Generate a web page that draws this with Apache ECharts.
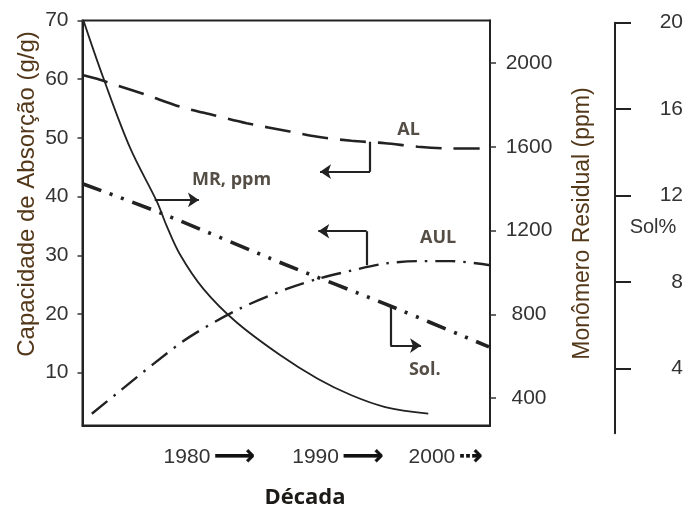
<!DOCTYPE html>
<html><head><meta charset="utf-8">
<script src="https://cdn.jsdelivr.net/npm/echarts@6/dist/echarts.min.js"></script>
<style>html,body{margin:0;padding:0;background:#fff}#c{width:686px;height:518px}</style>
</head><body><div id="c"></div>
<script>
// ---- data ----
const xLabelAt = [1980.9, 1991.95, 2001.2];
const xLabelYear = ['1980', '1990', '2000'];
const xLabelArrow = ['a', 'a', 'd'];
const absTicks = [10, 20, 30, 40, 50, 60, 70];
const mrTicks = [400, 800, 1200, 1600, 2000];
const solTicks = [4, 8, 12, 16, 20];

const mrYear = [1970.1, 1971.8, 1974.1, 1976.4, 1977.2, 1978.4, 1980.4, 1983.2, 1987.0, 1990.2, 1993.1, 1996.0, 1999.7];
const mrPpm  = [2200, 1927, 1593, 1337, 1226, 1083, 920, 763, 604, 492, 413, 357, 325];

const alYear = [1970, 1971.5, 1972.9, 1975.5, 1978.4, 1981.2, 1984.1, 1987.8, 1990.2, 1993.1, 1996.0, 1998.8, 2001.7, 2005];
const alVal  = [60.7, 59.9, 59.0, 57.3, 55.3, 53.9, 52.5, 51.1, 50.2, 49.5, 49.1, 48.5, 48.2, 48.2];

const aulYear = [1970.8, 1973.1, 1976.1, 1979.2, 1983.5, 1987.6, 1990.25, 1993.1, 1996.0, 1998.8, 2001.7, 2005];
const aulVal  = [3.0, 6.7, 11.5, 16.1, 20.9, 24.3, 26.0, 27.4, 28.6, 29.0, 29.0, 28.3];

const solYear = [1970, 1976.7, 1987.5, 1996.0, 2005];
const solVal  = [12.55, 11.2, 8.8, 7.0, 5.0];

// annotation texts and anchor points (data units, left axis)
const noteText = ['AL', 'MR, ppm', 'AUL', 'Sol.'];
const noteYear = [1998.0, 1982.8, 2000.55, 1999.4];
const noteVal  = [51.35, 42.85, 32.95, 10.4];

// bracket arrows (data units)
const alBracket  = [[1994.7, 49.35], [1994.7, 44.24], [1990.4, 44.24]];
const aulBracket = [[1994.4, 28.3], [1994.4, 34.1], [1990.25, 34.1]];
const mrArrow    = [[1976.2, 1346], [1980.0, 1346]];
const solBracket = [[1996.5, 6.88], [1996.5, 5.06], [1999.15, 5.06]];

const zip = (a, b) => a.map((v, i) => [v, b[i]]);
const INK = '#222';
const TICKFONT = '"Liberation Sans", Arial, sans-serif';

const chart = echarts.init(document.getElementById('c'), null, {renderer: 'canvas'});

const axisLine = {show: true, lineStyle: {color: INK, width: 2}};
const plain = v => String(v);

const option = {
  animation: false,
  backgroundColor: '#fff',
  grid: [
    {left: 82.5, right: 196, top: 20.5, bottom: 92.5, show: true, borderColor: INK, borderWidth: 2, backgroundColor: 'transparent'},
    {left: 82.5, right: 196, top: 22.7, bottom: 84.7}
  ],
  xAxis: [
    {type: 'value', gridIndex: 0, min: 1970, max: 2005,
     axisLine: axisLine, axisTick: {show: false}, splitLine: {show: false},
     axisLabel: {
       customValues: xLabelAt, margin: 17,
       formatter: function (v) {
         let k = 0, best = 1e9;
         xLabelAt.forEach((p, i) => { if (Math.abs(p - v) < best) { best = Math.abs(p - v); k = i; } });
         return '{n|' + xLabelYear[k] + '} {' + xLabelArrow[k] + '|' + (xLabelArrow[k] === 'a' ? '⟶' : '⇢') + '}';
       },
       rich: {
         n: {fontSize: 21, color: '#333', fontFamily: TICKFONT},
         a: {fontSize: 29, color: '#111', fontWeight: 'bold', fontFamily: 'DejaVu Sans', textBorderColor: '#111', textBorderWidth: 0.3},
         d: {fontSize: 29, color: '#111', fontWeight: 'bold', fontFamily: 'DejaVu Sans', textBorderColor: '#111', textBorderWidth: 0.3}
       }
     }},
    {type: 'value', gridIndex: 1, min: 1970, max: 2005, show: false}
  ],
  yAxis: [
    {type: 'value', gridIndex: 0, position: 'left', min: 1, max: 70,
     axisLine: axisLine, splitLine: {show: false},
     axisTick: {show: true, length: 5, customValues: absTicks, lineStyle: {color: '#333', width: 1.5}},
     axisLabel: {customValues: absTicks, fontSize: 21, color: '#333', margin: 14, fontFamily: TICKFONT, formatter: plain}},
    {type: 'value', gridIndex: 0, position: 'right', min: 268.7, max: 2203,
     axisLine: axisLine, splitLine: {show: false},
     axisTick: {show: true, length: 6, customValues: mrTicks, lineStyle: {color: '#333', width: 1.5}},
     axisLabel: {customValues: mrTicks, fontSize: 21, color: '#333', margin: 39, align: 'center', fontFamily: TICKFONT, formatter: plain}},
    {type: 'value', gridIndex: 1, position: 'right', offset: 126, min: 1, max: 20,
     axisLine: axisLine, splitLine: {show: false},
     axisTick: {show: true, length: 16, customValues: solTicks, lineStyle: {color: INK, width: 2}},
     axisLabel: {customValues: solTicks, fontSize: 21, color: '#333', margin: 68, align: 'right', fontFamily: TICKFONT, formatter: plain}}
  ],
  series: [
    {name: 'MR', type: 'line', xAxisIndex: 0, yAxisIndex: 1, data: zip(mrYear, mrPpm),
     showSymbol: false, smooth: 0.35, lineStyle: {color: INK, width: 1.8}},
    {name: 'AL', type: 'line', xAxisIndex: 0, yAxisIndex: 0, data: zip(alYear, alVal),
     showSymbol: false, smooth: 0.3, lineStyle: {color: INK, width: 2.6, type: [26, 12]}},
    {name: 'AUL', type: 'line', xAxisIndex: 0, yAxisIndex: 0, data: zip(aulYear, aulVal),
     showSymbol: false, smooth: 0.3, lineStyle: {color: INK, width: 2.4, type: [20, 8, 2.5, 8]}},
    {name: 'Sol', type: 'line', xAxisIndex: 1, yAxisIndex: 2, data: zip(solYear, solVal),
     showSymbol: false, smooth: 0.3, lineStyle: {color: INK, width: 3.6, type: [20, 9, 3, 9, 3, 9]}},
    // annotation texts
    {type: 'scatter', xAxisIndex: 0, yAxisIndex: 0, symbolSize: 0, silent: true,
     data: noteText.map((t, i) => ({name: t, value: [noteYear[i], noteVal[i]]})),
     label: {show: true, position: 'inside', formatter: '{b}', fontSize: 18, fontWeight: 'bold',
             fontFamily: '"Open Sans", sans-serif', color: '#2a2218'}},
    // bracket bodies (no arrowheads)
    {type: 'lines', coordinateSystem: 'cartesian2d', xAxisIndex: 0, yAxisIndex: 0, symbol: 'none', silent: true,
     lineStyle: {color: INK, width: 2.2, opacity: 1},
     data: [{coords: [alBracket[0], alBracket[1]]}, {coords: [aulBracket[0], aulBracket[1]]}]},
    {type: 'lines', coordinateSystem: 'cartesian2d', xAxisIndex: 1, yAxisIndex: 2, symbol: 'none', silent: true,
     lineStyle: {color: INK, width: 2.2, opacity: 1},
     data: [{coords: [solBracket[0], solBracket[1]]}]},
    // arrow heads
    {type: 'lines', coordinateSystem: 'cartesian2d', xAxisIndex: 0, yAxisIndex: 0, symbol: ['none', 'arrow'], symbolSize: 11, silent: true,
     lineStyle: {color: INK, width: 2.2, opacity: 1},
     data: [{coords: [alBracket[1], alBracket[2]]}, {coords: [aulBracket[1], aulBracket[2]]}]},
    {type: 'lines', coordinateSystem: 'cartesian2d', xAxisIndex: 0, yAxisIndex: 1, symbol: ['none', 'arrow'], symbolSize: 11, silent: true,
     lineStyle: {color: INK, width: 2.2, opacity: 1},
     data: [{coords: mrArrow}]},
    {type: 'lines', coordinateSystem: 'cartesian2d', xAxisIndex: 1, yAxisIndex: 2, symbol: ['none', 'arrow'], symbolSize: 11, silent: true,
     lineStyle: {color: INK, width: 2.2, opacity: 1},
     data: [{coords: [solBracket[1], solBracket[2]]}]}
  ],
  graphic: [
    {type: 'text', x: 27, y: 194, rotation: Math.PI / 2,
     style: {text: 'Capacidade de Absorção (g/g)', font: '24px "Liberation Sans", Arial, sans-serif', fill: '#54381a', textAlign: 'center', textVerticalAlign: 'middle'}},
    {type: 'text', x: 583, y: 223.5, rotation: Math.PI / 2,
     style: {text: 'Monômero Residual (ppm)', font: '23px "Liberation Sans", Arial, sans-serif', fill: '#54381a', textAlign: 'center', textVerticalAlign: 'middle'}},
    {type: 'text', x: 653, y: 227.5,
     style: {text: 'Sol%', font: '20px "Liberation Sans", Arial, sans-serif', fill: '#333', textAlign: 'center', textVerticalAlign: 'middle'}},
    {type: 'text', x: 305, y: 498,
     style: {text: 'Década', font: 'bold 22px "Open Sans", sans-serif', fill: '#1c1a16', textAlign: 'center', textVerticalAlign: 'middle'}}
  ]
};
chart.setOption(option);
</script></body></html>
